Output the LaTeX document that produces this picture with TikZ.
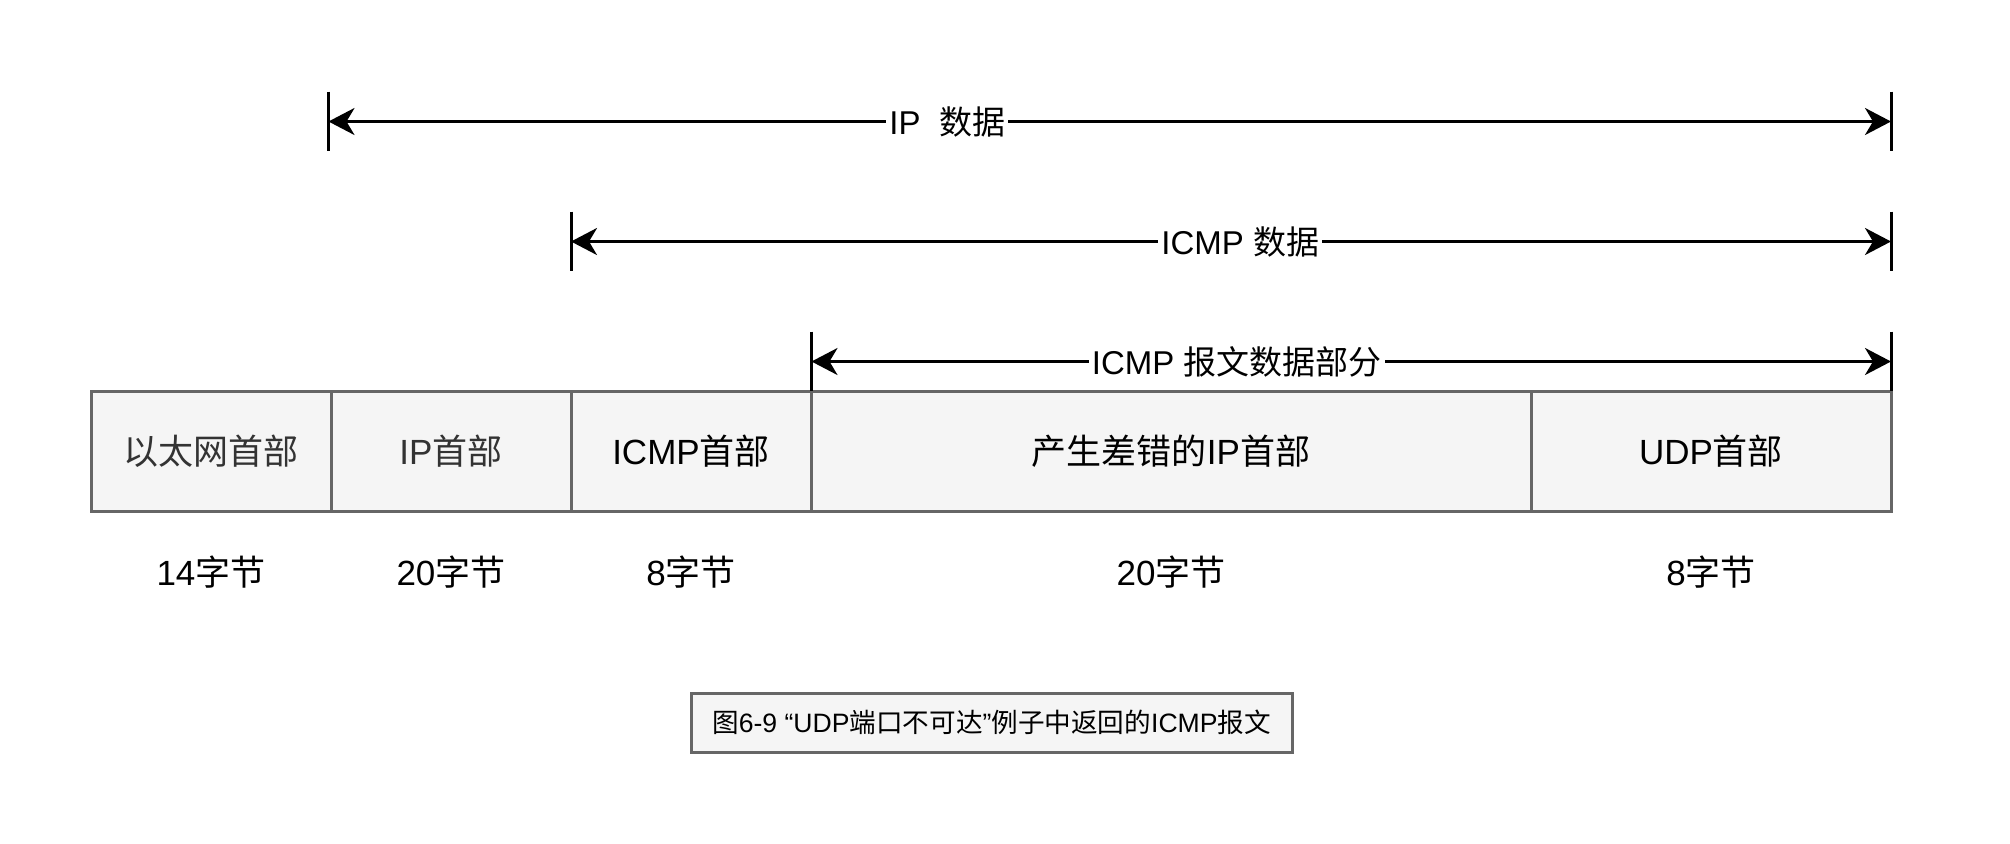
\documentclass[tikz,border=0pt]{standalone}
\usepackage{fontspec}
\setmainfont{Liberation Sans}
\newfontfamily\cjk{Noto Sans CJK SC}
\usetikzlibrary{arrows.meta}
\definecolor{cellfill}{HTML}{F5F5F5}
\definecolor{cellline}{HTML}{666666}
\definecolor{darktext}{HTML}{333333}
\begin{document}
\begin{tikzpicture}[x=0.5pt,y=-0.5pt,
  cell/.style={draw=cellline, fill=cellfill, line width=1.5pt, minimum height=60pt,
    inner sep=0pt, font=\fontsize{17.5}{21}\selectfont},
  bytes/.style={inner sep=0pt, font=\fontsize{17.5}{21}\selectfont},
  tickline/.style={line width=1.5pt, black},
  dimarrow/.style={line width=1.5pt,
    {Stealth[length=13pt,width=13.5pt,inset=4pt]}-{Stealth[length=13pt,width=13.5pt,inset=4pt]}},
  dimlabel/.style={fill=white, inner xsep=1.5pt, inner ysep=0pt, font=\fontsize{16.5}{20}\selectfont},
  capbox/.style={draw=cellline, fill=cellfill, line width=1.5pt, minimum width=300.5pt,
    minimum height=29.5pt, inner sep=0pt, font=\fontsize{13.3}{16}\selectfont}]
\useasboundingbox (0,0) rectangle (2010,843);
\fill[white] (0,0) rectangle (2010,843);

% cells
\node[cell, minimum width=120pt, text=darktext] (eth) at (211,451) {\cjk 以太网首部};
\node[cell, minimum width=120pt, text=darktext] (ip) at (451,451) {IP{\cjk 首部}};
\node[cell, minimum width=120pt] (icmp) at (691,451) {ICMP{\cjk 首部}};
\node[cell, minimum width=360pt] (err) at (1171,451) {{\cjk 产生差错的}IP{\cjk 首部}};
\node[cell, minimum width=180pt] (udp) at (1711,451) {UDP{\cjk 首部}};

% byte counts
\node[bytes] (b1) at (211,572) {14{\cjk 字节}};
\node[bytes] (b2) at (451,572) {20{\cjk 字节}};
\node[bytes] (b3) at (691,572) {8{\cjk 字节}};
\node[bytes] (b4) at (1171,572) {20{\cjk 字节}};
\node[bytes] (b5) at (1711,572) {8{\cjk 字节}};

% tick coordinates
\coordinate (ipLt) at (328.5,91.5);  \coordinate (ipLb) at (328.5,151);
\coordinate (ipRt) at (1891,91.5);   \coordinate (ipRb) at (1891,151);
\coordinate (icLt) at (571,211.5);   \coordinate (icLb) at (571,271);
\coordinate (icRt) at (1891,211.5);  \coordinate (icRb) at (1891,271);
\coordinate (msLt) at (811.5,331.5); \coordinate (msLb) at (811.5,391);
\coordinate (msRt) at (1891,331.5);  \coordinate (msRb) at (1891,391);
\coordinate (ipL) at (328.5,121.5);  \coordinate (ipR) at (1891,121.5);
\coordinate (icL) at (571,241.5);    \coordinate (icR) at (1891,241.5);
\coordinate (msL) at (811.5,361.5);  \coordinate (msR) at (1891,361.5);

\draw[tickline] (ipLt) -- (ipLb);
\draw[tickline] (ipRt) -- (ipRb);
\draw[tickline] (icLt) -- (icLb);
\draw[tickline] (icRt) -- (icRb);
\draw[tickline] (msLt) -- (msLb);
\draw[tickline] (msRt) -- (msRb);

\draw[dimarrow] (ipL) -- node[dimlabel, pos=0.396] (ipLab) {IP\ \ {\cjk 数据}} (ipR);
\draw[dimarrow] (icL) -- node[dimlabel, pos=0.507] (icLab) {ICMP {\cjk 数据}} (icR);
\draw[dimarrow] (msL) -- node[dimlabel, pos=0.394] (msLab) {ICMP {\cjk 报文数据部分}} (msR);

% caption
\node[capbox] (cap) at (991.5,722.5) {{\cjk 图}6-9 “UDP{\cjk 端口不可达}”{\cjk 例子中返回的}ICMP{\cjk 报文}};
\end{tikzpicture}
\end{document}
